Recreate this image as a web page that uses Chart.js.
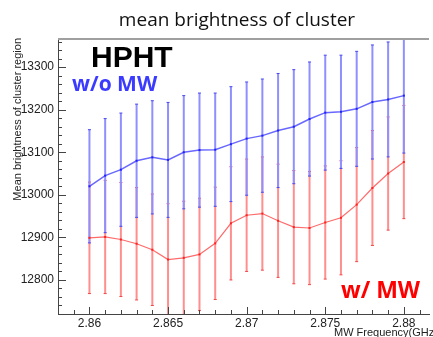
<!DOCTYPE html>
<html>
<head>
<meta charset="utf-8">
<script src="https://cdn.jsdelivr.net/npm/chart.js@4.4.1/dist/chart.umd.min.js"></script>
<style>
  html, body { margin: 0; padding: 0; background: #fff; overflow: hidden; }
  #graph { display: block; }
</style>
</head>
<body>
<canvas id="graph" width="433" height="337"></canvas>
<script>
// MW frequency points (GHz)
const freq = [2.860, 2.861, 2.862, 2.863, 2.864, 2.865, 2.866, 2.867, 2.868, 2.869, 2.870,
              2.871, 2.872, 2.873, 2.874, 2.875, 2.876, 2.877, 2.878, 2.879, 2.880];

// w/o MW (blue)
const noMw = [13020, 13045, 13059, 13080, 13088, 13082, 13100, 13105, 13106, 13119, 13132,
              13139, 13151, 13160, 13178, 13193, 13195, 13202, 13218, 13224, 13233];
const noMwErr = [133, 134, 133, 133, 133, 135, 133, 134, 133, 135, 133,
                 133, 134, 134, 134, 135, 133, 135, 134, 135, 135];

// w/ MW (red)
const withMw = [12899, 12901, 12895, 12885, 12871, 12848, 12852, 12860, 12886, 12933, 12952,
                12956, 12939, 12924, 12922, 12935, 12946, 12977, 13016, 13050, 13077];
const withMwErr = [131, 133, 134, 132, 131, 131, 133, 132, 132, 133, 132,
                   133, 133, 133, 133, 133, 134, 134, 135, 133, 133];

const xTicks = [2.86, 2.865, 2.87, 2.875, 2.88];
const yTicks = [12800, 12900, 13000, 13100, 13200, 13300];

function pts(xs, ys) {
  return xs.map((x, i) => ({ x: x, y: ys[i] }));
}

// error bars, drawn under the lines (red first, blue over it)
const errorBars = {
  id: 'errorBars',
  beforeDatasetsDraw(chart) {
    const ctx = chart.ctx, a = chart.chartArea;
    const xs = chart.scales.x, ys = chart.scales.y;
    ctx.save();
    ctx.beginPath();
    ctx.rect(a.left, a.top, a.right - a.left, a.bottom - a.top);
    ctx.clip();
    [[withMw, withMwErr, '#ff8f8f', '#f04848'], [noMw, noMwErr, '#8f8fff', '#4848f0']].forEach(s => {
      s[0].forEach((v, i) => {
        const px = xs.getPixelForValue(freq[i]);
        const top = ys.getPixelForValue(v + s[1][i]);
        const bot = ys.getPixelForValue(v - s[1][i]);
        ctx.strokeStyle = s[2];
        ctx.lineWidth = 2;
        ctx.beginPath();
        ctx.moveTo(px, top);
        ctx.lineTo(px, bot);
        ctx.stroke();
        ctx.strokeStyle = s[3];
        ctx.lineWidth = 1;
        ctx.beginPath();
        ctx.moveTo(px - 1.5, top); ctx.lineTo(px + 1.5, top);
        ctx.moveTo(px - 1.5, bot); ctx.lineTo(px + 1.5, bot);
        ctx.stroke();
      });
    });
    ctx.restore();
  }
};

// ROOT style frame: ticks pointing inward, grey top line, texts
const frame = {
  id: 'frame',
  afterDraw(chart) {
    const ctx = chart.ctx, a = chart.chartArea;
    const xs = chart.scales.x, ys = chart.scales.y;
    ctx.save();
    ctx.strokeStyle = '#444';
    ctx.lineWidth = 1;
    ctx.beginPath();
    for (let v = 12720; v <= 13366; v += 20) {
      const py = Math.round(ys.getPixelForValue(v)) + 0.5;
      const len = v % 100 === 0 ? 8 : 4;
      ctx.moveTo(a.left, py);
      ctx.lineTo(a.left + len, py);
    }
    for (let k = 2858; k <= 2881; k++) {
      const px = Math.round(xs.getPixelForValue(k / 1000)) + 0.5;
      const len = k % 5 === 0 ? 7 : 4;
      ctx.moveTo(px, a.bottom);
      ctx.lineTo(px, a.bottom - len);
    }
    ctx.stroke();

    ctx.strokeStyle = '#a0a0a0';
    ctx.lineWidth = 2;
    ctx.beginPath();
    ctx.moveTo(a.left, a.top);
    ctx.lineTo(a.right, a.top);
    ctx.stroke();

    ctx.fillStyle = '#111';
    ctx.textAlign = 'center';
    ctx.textBaseline = 'alphabetic';
    ctx.font = '19px "Open Sans"';
    ctx.fillText('mean brightness of cluster', 237, 26);

    ctx.textAlign = 'left';
    ctx.fillStyle = '#000';
    ctx.font = 'bold 30px "Liberation Sans"';
    ctx.fillText('HPHT', 91, 67);

    ctx.fillStyle = '#3b3bff';
    ctx.font = 'bold 21px "Open Sans"';
    ctx.fillText('w/o MW', 72, 91);

    ctx.fillStyle = '#ff0000';
    ctx.font = 'bold 23px "Open Sans"';
    ctx.fillText('w/ MW', 341, 298);

    ctx.fillStyle = '#222';
    ctx.font = '11px "Liberation Sans"';
    ctx.fillText('MW Frequency(GHz)', 334, 336);

    ctx.translate(21, 38);
    ctx.rotate(-Math.PI / 2);
    ctx.textAlign = 'right';
    ctx.fillText('Mean brightness of cluster region', 0, 0);
    ctx.restore();
  }
};

new Chart(document.getElementById('graph'), {
  type: 'scatter',
  data: {
    datasets: [
      {
        data: pts(freq, noMw),
        showLine: true,
        borderColor: '#6868ff',
        borderWidth: 1.5,
        pointStyle: 'rect',
        pointRadius: 1.4,
        pointBackgroundColor: '#1f1fff',
        pointBorderWidth: 0
      },
      {
        data: pts(freq, withMw),
        showLine: true,
        borderColor: '#ff6a6a',
        borderWidth: 1.2,
        pointStyle: 'rect',
        pointRadius: 1.4,
        pointBackgroundColor: '#ff1f1f',
        pointBorderWidth: 0
      }
    ]
  },
  options: {
    responsive: false,
    animation: false,
    layout: { padding: { top: 39, left: 0, right: 0, bottom: 0 } },
    plugins: { legend: { display: false }, tooltip: { enabled: false } },
    scales: {
      x: {
        type: 'linear',
        min: 2.858,
        max: 2.8816,
        afterBuildTicks: s => { s.ticks = xTicks.map(v => ({ value: v })); },
        afterFit: s => { s.height = 23; },
        ticks: {
          padding: 2,
          color: '#222',
          font: { family: 'Liberation Sans', size: 12 },
          callback: v => String(v)
        },
        grid: { display: false, drawTicks: false },
        border: { display: true, color: '#444', width: 1 }
      },
      y: {
        min: 12720,
        max: 13366,
        afterBuildTicks: s => { s.ticks = yTicks.map(v => ({ value: v })); },
        afterFit: s => { s.width = 58; },
        ticks: {
          padding: 4,
          color: '#222',
          font: { family: 'Liberation Sans', size: 12 },
          callback: v => String(v)
        },
        grid: { display: false, drawTicks: false },
        border: { display: true, color: '#444', width: 1 }
      }
    }
  },
  plugins: [errorBars, frame]
});
</script>
</body>
</html>
